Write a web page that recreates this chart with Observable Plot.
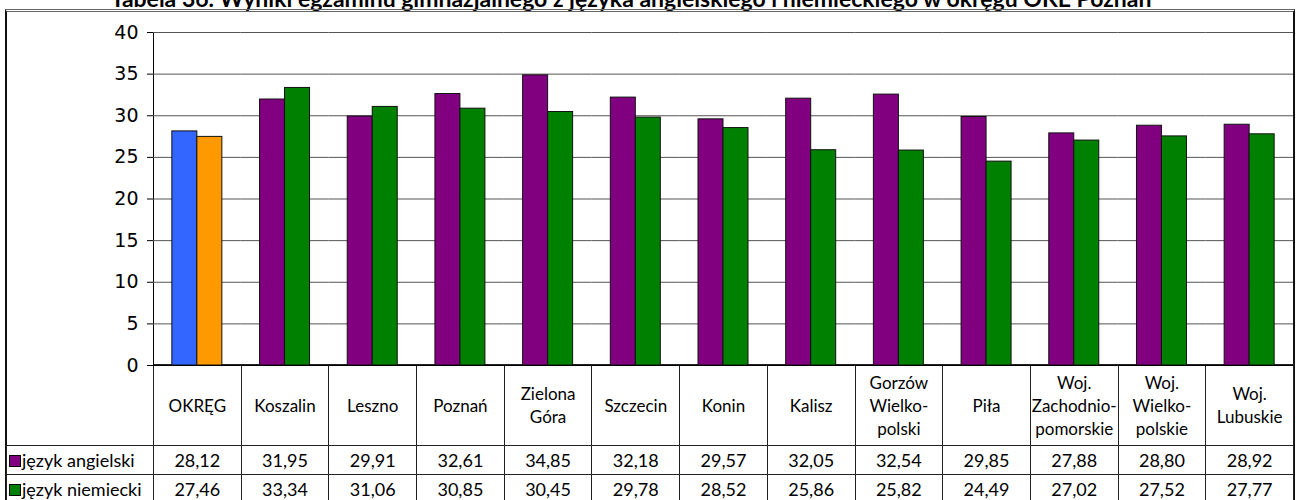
<!DOCTYPE html>
<html><head><meta charset="utf-8">
<script src="https://cdn.jsdelivr.net/npm/d3@7"></script>
<script src="https://cdn.jsdelivr.net/npm/@observablehq/plot@0.6"></script>
<style>
body{margin:0;background:#fff;}
#wrap{position:relative;width:1296px;height:500px;overflow:hidden;font-family:Lato,sans-serif;color:#000;}
#title{position:absolute;top:-15px;left:0;width:1262px;text-align:center;font-weight:bold;font-size:23px;line-height:27px;white-space:nowrap;}
#box{position:absolute;left:5px;top:9px;width:1286px;height:600px;border-top:3px double #666;border-left:2px solid #111;border-right:2px solid #111;}
#chart{position:absolute;left:0;top:0;width:1296px;}
#chart svg{overflow:visible;max-width:none;}
#tbl{position:absolute;left:6px;top:364px;border-collapse:collapse;table-layout:fixed;width:1288px;}
#tbl td{border:1px solid #222;text-align:center;padding:0;font-size:18px;}
#tbl tr.lab td{height:80px;font-size:17px;line-height:23px;}
#tbl tr.val td{height:28px;}
#tbl td.leg{text-align:left;white-space:nowrap;padding-left:2px;}
#tbl td.blank{border-top:none;border-left:none;}
.sw{display:inline-block;width:10px;height:10px;border:1px solid #000;margin-right:1px;vertical-align:0px;}
</style></head>
<body>
<div id="wrap">
  <div id="title"></div>
  <div id="box"></div>
  <table id="tbl"></table>
  <div id="chart"></div>
</div>
<script>
const titleText = "Tabela 36. Wyniki egzaminu gimnazjalnego z języka angielskiego i niemieckiego w okręgu OKE Poznań";
const categories = ["OKRĘG","Koszalin","Leszno","Poznań","Zielona Góra","Szczecin","Konin","Kalisz","Gorzów Wielkopolski","Piła","Woj. Zachodniopomorskie","Woj. Wielkopolskie","Woj. Lubuskie"];
const categoryLines = [["OKRĘG"],["Koszalin"],["Leszno"],["Poznań"],["Zielona","Góra"],["Szczecin"],["Konin"],["Kalisz"],["Gorzów","Wielko-","polski"],["Piła"],["Woj.","Zachodnio-","pomorskie"],["Woj.","Wielko-","polskie"],["Woj.","Lubuskie"]];
const series = ["język angielski","język niemiecki"];
const angielski = [28.12,31.95,29.91,32.61,34.85,32.18,29.57,32.05,32.54,29.85,27.88,28.80,28.92];
const niemiecki = [27.46,33.34,31.06,30.85,30.45,29.78,28.52,25.86,25.82,24.49,27.02,27.52,27.77];
const seriesColors = ["#800080","#008000"];
const okregColors = ["#3366FF","#FF9900"];
const yTicks = [0,5,10,15,20,25,30,35,40];

document.getElementById("title").textContent = titleText;

const values = [angielski, niemiecki];
const rows = [];
categories.forEach((c, i) => {
  series.forEach((s, j) => {
    rows.push({cat: c, series: s, value: values[j][i], color: i === 0 ? okregColors[j] : seriesColors[j]});
  });
});

const chart = Plot.plot({
  width: 1296, height: 366,
  marginLeft: 153, marginRight: 3, marginTop: 32, marginBottom: 1,
  facet: {data: rows, x: "cat"},
  fx: {domain: categories, padding: 0, round: false, axis: null},
  x: {domain: series, paddingInner: 0, paddingOuter: 0.754, round: false, axis: null},
  y: {domain: [0, 40], ticks: yTicks, tickSize: 6, tickPadding: 9, label: null, line: true},
  color: {type: "identity"},
  style: {fontFamily: "DejaVu Sans", fontSize: "19px", overflow: "visible", background: "transparent"},
  marks: [
    Plot.ruleY(yTicks, {stroke: "#555", strokeWidth: 1}),
    Plot.barY(rows, {x: "series", y: "value", fill: "color", stroke: "#111", strokeWidth: 1}),
    Plot.ruleY([0], {stroke: "#000"})
  ]
});
document.getElementById("chart").appendChild(chart);

// data table below the chart
const fmt = v => v.toFixed(2).replace(".", ",");
const colW = 1140 / categories.length;
let html = `<colgroup><col style="width:147px">` + categories.map(() => `<col style="width:${colW}px">`).join("") + `</colgroup>`;
html += `<tr class="lab"><td class="blank"></td>` + categoryLines.map(l => `<td>${l.join("<br>")}</td>`).join("") + `</tr>`;
series.forEach((s, j) => {
  html += `<tr class="val"><td class="leg"><span class="sw" style="background:${seriesColors[j]}"></span>${s}</td>` +
    values[j].map(v => `<td>${fmt(v)}</td>`).join("") + `</tr>`;
});
document.getElementById("tbl").innerHTML = html;
</script>
</body></html>
